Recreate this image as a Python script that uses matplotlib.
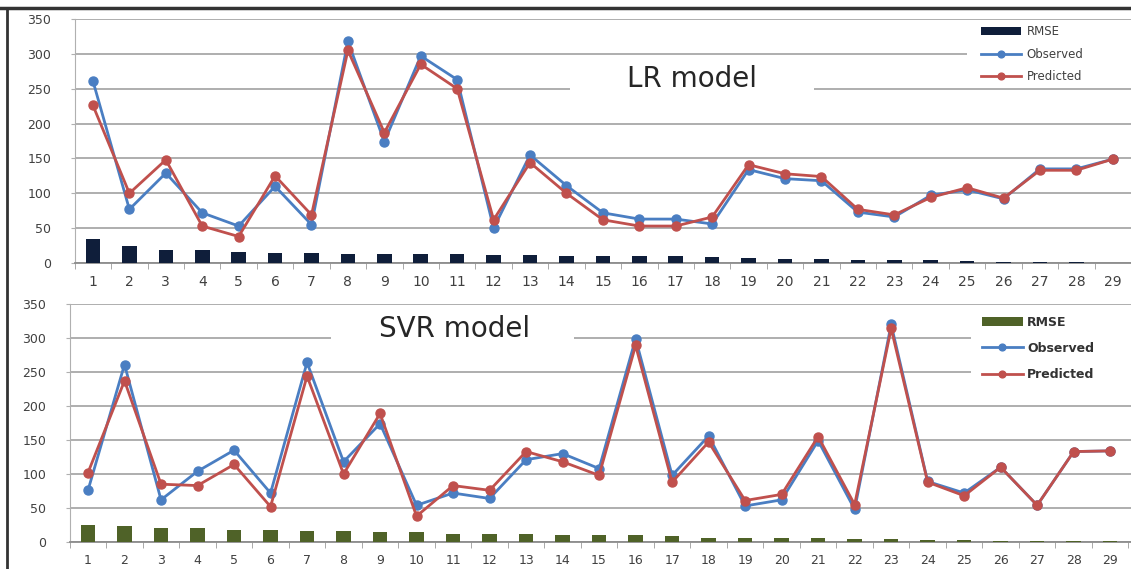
import numpy as np
import matplotlib
matplotlib.use("Agg")
import matplotlib.pyplot as plt
from matplotlib.lines import Line2D
from matplotlib.patches import Rectangle

# category index
cases = list(range(1, 30))

# LR model
lr_observed = [261, 77, 129, 72, 53, 110, 55, 318, 174, 297, 263, 50, 155, 111,
               72, 63, 63, 56, 134, 121, 118, 73, 66, 97, 105, 92, 135, 135, 149]
lr_predicted = [226, 100, 148, 53, 38, 125, 69, 305, 187, 285, 250, 62, 144, 100,
                62, 53, 53, 66, 141, 128, 124, 77, 69, 94, 108, 93, 133, 133, 149]
lr_rmse = [34, 24, 19, 19, 16, 14, 14, 13, 13, 13, 13, 11.5, 11.5, 10.5,
           9.5, 9.5, 9.5, 8.5, 7, 6, 6, 4.5, 4.5, 4.5, 3, 2, 1.5, 1.5, 0.5]

# SVR model
svr_observed = [76, 261, 62, 104, 135, 72, 264, 118, 174, 54, 72, 64, 121, 130,
                108, 299, 98, 156, 53, 62, 149, 48, 320, 89, 72, 110, 54, 133, 134]
svr_predicted = [102, 237, 85, 83, 114, 52, 244, 100, 189, 38, 83, 76, 133, 118,
                 98, 289, 88, 147, 61, 70, 155, 55, 314, 88, 68, 110, 54, 133, 134]
svr_rmse = [25.5, 24, 20.5, 20.5, 18, 18, 16.5, 16.5, 15, 15, 11.5, 11.5, 11.5, 10,
            10, 10, 8.5, 6.5, 6.5, 6.5, 6.5, 5, 5, 3, 2.5, 1, 1, 1, 1]

BLUE = "#4a7ec2"
RED = "#c0504d"
GRID = "#a8a8a8"
TXT = "#404040"

W, H = 1131, 569
fig = plt.figure(figsize=(W / 100, H / 100), dpi=100)


def px_axes(left, right, top, bottom):
    return fig.add_axes([left / W, 1 - bottom / H, (right - left) / W, (bottom - top) / H])


def white_box(ax, x0, y0, w, h):
    # white area that hides the gridlines behind titles / legend
    ax.add_patch(Rectangle((x0, y0), w, h, transform=ax.transAxes,
                           facecolor="white", edgecolor="none", zorder=2))


def draw_panel(ax, obs, pred, rmse, bar_color, xmax, label_size):
    x = np.array(cases)
    bars = ax.bar(x, rmse, width=0.4, color=bar_color, zorder=3, label="RMSE")
    l1, = ax.plot(x, obs, color=BLUE, lw=2.0, marker="o", ms=6.5, zorder=4, label="Observed")
    l2, = ax.plot(x, pred, color=RED, lw=2.0, marker="o", ms=6.5, zorder=5, label="Predicted")
    ax.set_xlim(0.5, xmax)
    ax.set_ylim(0, 350)
    ax.set_yticks(range(0, 351, 50))
    ax.set_xticks(x)
    ax.set_xticks(np.arange(0.5, 29.6, 1), minor=True)
    ax.grid(axis="y", color=GRID, lw=1.3, zorder=0)
    ax.set_axisbelow(True)
    for s in ["top", "right"]:
        ax.spines[s].set_visible(False)
    ax.spines["left"].set_color("#b0b0b0")
    ax.spines["bottom"].set_color("#8c8c8c")
    ax.spines["bottom"].set_linewidth(1.3)
    ax.tick_params(axis="x", which="major", length=0, pad=9, labelsize=label_size, colors=TXT)
    ax.tick_params(axis="x", which="minor", length=4, color="#9a9a9a", direction="out")
    ax.tick_params(axis="y", length=3, color="#b0b0b0", labelsize=9, labelcolor=TXT, pad=14)
    return [bars, l1, l2]


# ---- LR panel
ax1 = px_axes(74.75, W, 19, 263)
h1 = draw_panel(ax1, lr_observed, lr_predicted, lr_rmse, "#0f1e3a", 29.44, 10)
white_box(ax1, 0.469, 0.67, 0.231, 0.16)
white_box(ax1, 0.8447, 0.7254, 0.16, 0.262)
ax1.text(0.5844, 0.754, "LR model", transform=ax1.transAxes, ha="center", va="center",
         fontsize=20, color="#262626", zorder=6)
leg1 = ax1.legend(handles=h1, loc="upper left", bbox_to_anchor=(976 / W, 1 - 20 / H),
                  bbox_transform=fig.transFigure, frameon=False, markerscale=0.75,
                  fontsize=8.5, handlelength=3.4, handletextpad=0.45,
                  labelspacing=0.8, borderpad=0.45, borderaxespad=0)
for t in leg1.get_texts():
    t.set_color(TXT)

# ---- SVR panel
ax2 = px_axes(69.75, W, 304, 542)
h2 = draw_panel(ax2, svr_observed, svr_predicted, svr_rmse, "#4f6228", 29.57, 9)
white_box(ax2, 0.2464, 0.828, 0.229, 0.126)
white_box(ax2, 0.8492, 0.6597, 0.16, 0.3235)
ax2.text(0.3622, 0.895, "SVR model", transform=ax2.transAxes, ha="center", va="center",
         fontsize=20, color="#262626", zorder=6)
leg2 = ax2.legend(handles=h2, loc="upper left", bbox_to_anchor=(976 / W, 1 - 310 / H),
                  bbox_transform=fig.transFigure, frameon=False, markerscale=0.75,
                  prop={"size": 9, "weight": "bold"}, handlelength=3.3, handletextpad=0.35,
                  labelspacing=1.05, borderpad=0.45, borderaxespad=0)
for t in leg2.get_texts():
    t.set_color("#333333")

# page frame lines
fig.add_artist(Line2D([0, 1], [1 - 8 / H, 1 - 8 / H], color="#333333", lw=2.5,
                      transform=fig.transFigure))
fig.add_artist(Line2D([7 / W, 7 / W], [0, 1 - 8 / H], color="#333333", lw=2.0,
                      transform=fig.transFigure))

fig.savefig("out.png", dpi=100)
